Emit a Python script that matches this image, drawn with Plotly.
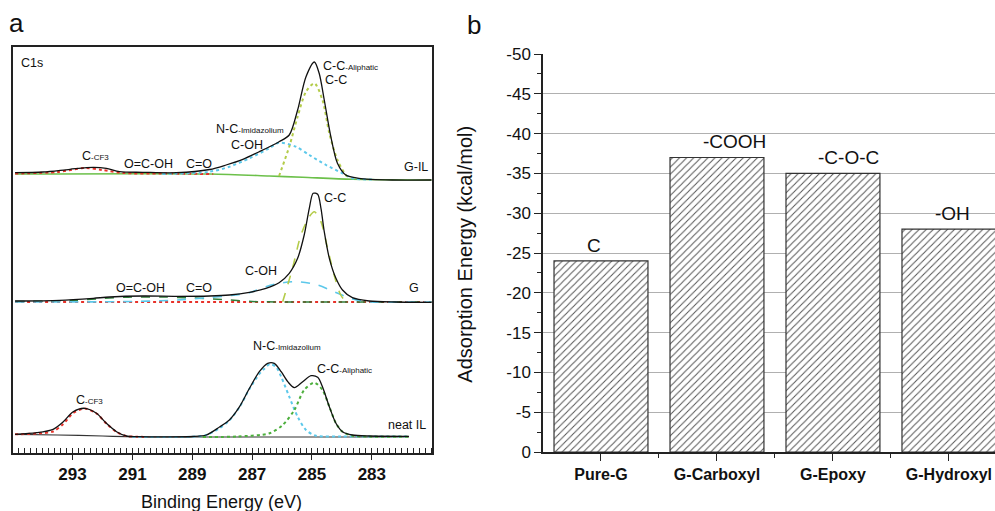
import plotly.graph_objects as go

FONT = "Liberation Sans, Arial, sans-serif"

# ---------------- Panel a : XPS C1s (binding energy in eV, intensity in a.u. above each spectrum's baseline)
# neat IL
neat_tot_E = [294.92, 294.2, 293.65, 293.31, 292.98, 292.59, 292.2, 291.87, 291.53, 291.2, 290.87, 290.0, 289.0,
              288.53, 288.09, 287.76, 287.42, 287.09, 286.76, 286.48, 286.26, 286.03, 285.81, 285.59, 285.31,
              285.03, 284.81, 284.65, 284.42, 284.2, 283.98, 283.65, 283.09, 281.76]
neat_tot_I = [2.7, 4.3, 7.7, 15.3, 25.3, 28.7, 23.7, 13.7, 5.3, 1.0, 0.3, 0.2, 0.5,
              2.0, 10, 17, 30.3, 48.7, 65.3, 73.7, 73.7, 65.3, 55.3, 49.3, 55.3,
              61.3, 59.7, 50.3, 30.3, 13.7, 5.3, 2, 1, 0.7]
neat_nc_E = [291.0, 289.0, 288.53, 288.09, 287.76, 287.42, 287.09, 286.76, 286.6, 286.4, 286.2, 286.03, 285.76,
             285.48, 285.2, 284.87, 284.0, 281.76]
neat_nc_I = [0, 0.3, 2, 8.7, 16.5, 30, 48, 63, 68, 73, 70, 60.3, 40.3, 20.3, 7, 1.3, 0.5, 0.5]
neat_cc_E = [288.65, 287.5, 286.42, 285.98, 285.59, 285.26, 284.92, 284.65, 284.42, 284.2, 283.98, 283.65, 283.0, 281.76]
neat_cc_I = [0, 0.5, 3.7, 12, 27, 47, 54.3, 47, 30.3, 13.7, 5.3, 1.3, 0.3, 0.3]
neat_cf3_E = [294.92, 294.2, 293.65, 293.31, 292.98, 292.59, 292.2, 291.87, 291.53, 291.2, 290.87, 290.5]
neat_cf3_I = [2.7, 3.5, 5.5, 13, 24, 28.5, 23.5, 13.5, 5, 1, 0.3, 0]
neat_bg_E = [294.92, 293.5, 292.0, 291.2, 290.5, 281.76]
neat_bg_I = [2.7, 2.0, 1.0, 0.3, 0, 0]

# G
g_tot_E = [294.92, 293.43, 292.31, 291.76, 290.65, 289.53, 288.42, 287.76, 287.09, 286.54, 286.1, 285.76, 285.48,
           285.26, 285.09, 284.96, 284.81, 284.7, 284.59, 284.42, 284.2, 283.98, 283.65, 283.09, 282.2, 281.0]
g_tot_I = [1, 1.7, 3.7, 5, 6, 5.7, 6, 7, 9.7, 13.7, 19.3, 28.7, 43.7,
           67, 93.7, 108.7, 107.7, 93.7, 70.3, 43.7, 23.7, 12, 4.3, 1, 0, -0.3]
g_cc_E = [285.98, 285.65, 285.37, 285.09, 284.92, 284.7, 284.48, 284.26, 284.04, 283.87]
g_cc_I = [0.3, 33.7, 67, 85.3, 90.3, 80.3, 53.7, 27, 7, 0.3]
g_coh_E = [294.92, 291.0, 289.5, 288.42, 287.76, 287.09, 286.54, 286.1, 285.48, 284.81, 284.26, 283.7, 283.15, 282.0, 281.0]
g_coh_I = [0, 0.5, 2, 4.5, 6.3, 9.3, 15.3, 18.7, 20.3, 17, 10.3, 3.7, 0.3, 0, 0]
g_ox_E = [294.92, 293.0, 292.0, 291.0, 290.0, 289.0, 288.0, 287.0, 286.0, 281.0]
g_ox_I = [0.5, 1.5, 3.5, 5, 5, 4, 2.5, 0.5, 0, 0]
g_base_E = [294.92, 281.0]
g_base_I = [0, 0]

# G-IL
gil_tot_E = [294.92, 293.98, 293.09, 292.31, 291.87, 291.43, 290.65, 289.53, 288.42, 287.87, 287.31, 286.76, 286.1,
             285.76, 285.48, 285.2, 284.92, 284.76, 284.59, 284.37, 284.15, 283.87, 283.43, 282.32, 281.0]
gil_tot_I = [7.3, 8, 10.7, 12.7, 11.7, 8.3, 7.7, 7.3, 10.5, 15, 20.7, 28.3, 38.3,
             45, 70, 103.3, 118, 106.7, 80, 43.3, 16.7, 5, 1.7, 0, 0]
gil_bg_E = [294.92, 288.42, 286.43, 285.31, 283.65, 281.0]
gil_bg_I = [6, 6, 4, 2.7, 0.7, 0]
gil_cc_E = [286.1, 285.76, 285.48, 285.2, 284.92, 284.65, 284.42, 284.15, 283.87, 283.76]
gil_cc_I = [4, 33.3, 63.3, 88.3, 96.7, 80, 46.7, 20, 5, 1.7]
gil_nc_E = [290.0, 288.42, 287.76, 287.09, 286.43, 286.1, 285.54, 285.09, 284.53, 283.98, 283.65, 283.0]
gil_nc_I = [6, 8.3, 13.3, 21.7, 31.7, 37.3, 33.3, 25, 15, 6.7, 1.7, 0.5]
gil_cf3_E = [294.92, 293.5, 292.6, 292.0, 291.3, 290.0, 288.3]
gil_cf3_I = [6.5, 8, 12, 10, 7, 6.5, 6]

# vertical offsets of the stacked spectra (a.u.)
OFF_NEAT, OFF_G, OFF_GIL = 16, 151, 273

xps_ticks = [293, 291, 289, 287, 285, 283]

# ---------------- Panel b : adsorption energies
categories = ["Pure-G", "G-Carboxyl", "G-Epoxy", "G-Hydroxyl"]
energies = [-24, -37, -35, -28]
groups = ["C", "-COOH", "-C-O-C", "-OH"]
y_ticks = [0, -5, -10, -15, -20, -25, -30, -35, -40, -45, -50]
y_tick_labels = ["0", "-5", "-10", "-15", "-20", "-25", "-30", "-35", "-40", "-45", "-50"]

# horizontal nudges (px) of the group labels above the bars (layout only)
group_label_xshift = [-7, 18, 16, 4]

CYAN = "#5cc8ea"
YGREEN = "#b4cc4a"
GREEN = "#4caf3c"
RED = "#e8322a"
DKGREEN = "#2f7d3a"

fig = go.Figure()


def add(E, I, off, color, dash="solid", width=1.3, shape="spline"):
    fig.add_trace(go.Scatter(x=E, y=[v + off for v in I], mode="lines", xaxis="x", yaxis="y",
                             line=dict(color=color, dash=dash, width=width, shape=shape, smoothing=0.8),
                             hoverinfo="skip", showlegend=False))


# neat IL
add(neat_bg_E, neat_bg_I, OFF_NEAT, "#333333", "solid", 1.2)
add(neat_cf3_E, neat_cf3_I, OFF_NEAT, RED, "dot", 2)
add(neat_nc_E, neat_nc_I, OFF_NEAT, CYAN, "dot", 2)
add(neat_cc_E, neat_cc_I, OFF_NEAT, GREEN, "dot", 2)
add(neat_tot_E, neat_tot_I, OFF_NEAT, "#111111", "solid", 1.3)
# G
add(g_base_E, g_base_I, OFF_G, RED, "dot", 2)
add(g_ox_E, g_ox_I, OFF_G, DKGREEN, "dash", 1.5)
add(g_coh_E, g_coh_I, OFF_G, CYAN, "dash", 1.6)
add(g_cc_E, g_cc_I, OFF_G, YGREEN, "dash", 1.6)
add(g_tot_E, g_tot_I, OFF_G, "#111111", "solid", 1.3)
# G-IL
add(gil_bg_E, gil_bg_I, OFF_GIL, "#6cc04a", "solid", 1.6)
add(gil_cf3_E, gil_cf3_I, OFF_GIL, RED, "dot", 2)
add(gil_nc_E, gil_nc_I, OFF_GIL, CYAN, "dot", 2)
add(gil_cc_E, gil_cc_I, OFF_GIL, YGREEN, "dot", 2)
add(gil_tot_E, gil_tot_I, OFF_GIL, "#111111", "solid", 1.3)

# bars
fig.add_trace(go.Bar(x=list(range(len(categories))), y=energies, xaxis="x2", yaxis="y2", width=0.81,
                     marker=dict(color="white", line=dict(color="#333333", width=1.2),
                                 pattern=dict(shape="/", fgcolor="#555555", bgcolor="white", size=5, solidity=0.2)),
                     hoverinfo="skip", showlegend=False))

ann = []


def lab(text, x, y, size=12.5, xref="x", yref="y", **kw):
    d = dict(text=text, x=x, y=y, xref=xref, yref=yref, showarrow=False, xanchor="center", yanchor="middle",
             font=dict(family=FONT, size=size, color="#111"))
    d.update(kw)
    ann.append(d)


def sub(big, small):
    return f"{big}<span style='font-size:8px'>{small}</span>"


# G-IL labels
lab("C1s", 294.36, 390)
lab(sub("C", "-CF3"), 292.22, 297)
lab("O=C-OH", 290.46, 289)
lab("C=O", 288.76, 289)
lab(sub("N-C", "-Imidazolium"), 287.06, 324)
lab("C-OH", 287.16, 308)
lab(sub("C-C", "-Aliphatic"), 283.72, 387)
lab("C-C", 284.19, 373)
lab("G-IL", 281.52, 286)
# G labels
lab("O=C-OH", 290.72, 165)
lab("C=O", 288.76, 165)
lab("C-OH", 286.71, 182)
lab("C-C", 284.22, 255)
lab("G", 281.59, 165)
# neat IL labels
lab(sub("C", "-CF3"), 292.42, 53)
lab(sub("N-C", "-Imidazolium"), 285.82, 107)
lab(sub("C-C", "-Aliphatic"), 283.92, 84)
lab("neat IL", 281.82, 28)

# bar labels
for i, g in enumerate(groups):
    lab(g, i, energies[i], size=19, xref="x2", yref="y2", yanchor="bottom", yshift=3,
        xshift=group_label_xshift[i])

# axis titles / panel letters
lab("Binding Energy (eV)", 0.223, 0.018, size=18, xref="paper", yref="paper")
lab("Adsorption Energy (kcal/mol)", 0.467, 0.503, size=20, xref="paper", yref="paper", textangle=-90)
lab("a", 0.017, 0.955, size=26, xref="paper", yref="paper")
lab("b", 0.476, 0.952, size=26, xref="paper", yref="paper")

W, H = 995, 511
fig.update_layout(
    template=None,
    width=W, height=H, margin=dict(l=0, r=0, t=0, b=0, autoexpand=False),
    paper_bgcolor="white", plot_bgcolor="white",
    font=dict(family=FONT, color="#111"),
    annotations=ann,
    xaxis=dict(domain=[12.7 / W, 431.7 / W], range=[295, 281], automargin=False, showline=True, linecolor="#222",
               linewidth=1.5, mirror=True, showgrid=False, zeroline=False, tickvals=xps_ticks, ticks="outside",
               ticklen=5, tickcolor="#222", tickfont=dict(size=17, weight="bold", family=FONT),
               minor=dict(dtick=0.2, tick0=281, ticks="inside", ticklen=5, tickcolor="#222", showgrid=False)),
    yaxis=dict(domain=[(H - 453) / H, (H - 47) / H], range=[0, 406], automargin=False, showline=True,
               linecolor="#222", linewidth=1.5, mirror=True, showgrid=False, zeroline=False,
               showticklabels=False, ticks=""),
    xaxis2=dict(domain=[543 / W, 1.0], range=[-0.5, 3.397], anchor="y2", automargin=False, showline=True,
                linecolor="#222", linewidth=1.5, showgrid=False, zeroline=False,
                tickvals=list(range(len(categories))), ticktext=categories, ticks="outside", ticklen=7,
                tickcolor="#222", tickfont=dict(size=16, weight="bold", family=FONT),
                minor=dict(tickvals=[0.5, 1.5, 2.5], ticks="outside", ticklen=4, tickcolor="#222")),
    yaxis2=dict(domain=[(H - 452) / H, (H - 54) / H], range=[0, -50], anchor="x2", automargin=False,
                showline=True, linecolor="#222", linewidth=1.5, showgrid=True, gridcolor="#b0b0b0", gridwidth=1,
                zeroline=False, tickvals=y_ticks, ticktext=y_tick_labels, ticks="outside", ticklen=7,
                tickcolor="#222", tickfont=dict(size=17, family=FONT),
                minor=dict(dtick=2.5, ticks="outside", ticklen=4, tickcolor="#222", showgrid=False)),
)

fig.write_html("out.html", config={"displayModeBar": False},
               post_script="document.body.style.margin='0';")
